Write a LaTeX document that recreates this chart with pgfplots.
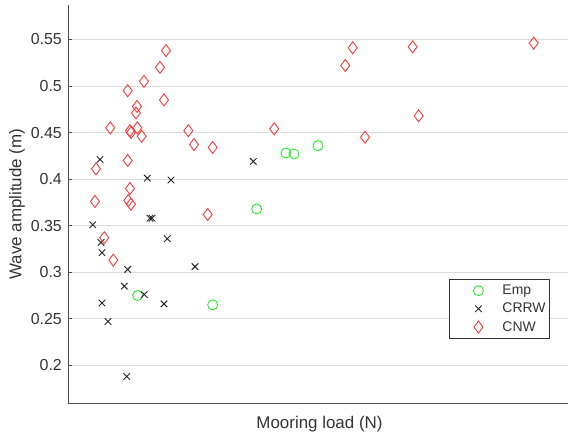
\documentclass[border=0pt]{standalone}
\usepackage{pgfplots}
\pgfplotsset{compat=1.18}
\usepackage{fontspec}
\setmainfont{Liberation Sans}
\definecolor{empc}{rgb}{0.15,0.93,0.15}
\definecolor{cnwc}{rgb}{1,0.22,0.22}
\definecolor{crrwc}{rgb}{0.15,0.15,0.15}
\definecolor{txt}{rgb}{0.2,0.2,0.2}
\begin{document}
\begin{tikzpicture}
\path[use as bounding box] (0,0) rectangle (568bp,436bp);
\begin{axis}[
  at={(68bp,32.5bp)}, anchor=south west,
  scale only axis, width=500bp, height=398.5bp,
  xmin=68, xmax=568, ymin=0.159, ymax=0.587,
  axis x line*=bottom, axis y line*=left,
  axis line style={-, black!70, line width=1bp},
  xtick=\empty,
  ytick={0.2,0.25,0.3,0.35,0.4,0.45,0.5,0.55},
  yticklabels={0.2,0.25,0.3,0.35,0.4,0.45,0.5,0.55},
  ymajorgrids, major grid style={black!14, line width=0.8bp},
  tick align=inside, major tick length=4bp,
  tick style={black!70, line width=0.8bp},
  /pgf/number format/assume math mode=true,
  yticklabel style={font=\fontsize{16}{18}\selectfont, text=txt, inner sep=0pt, xshift=-6bp},
  ylabel={Wave amplitude (m)},
  ylabel style={at={(axis description cs:-0.102,0.5)}, anchor=center, font=\fontsize{17}{20}\selectfont, text=txt},
  xlabel={Mooring load (N)},
  xlabel style={at={(axis description cs:0.503,0)}, anchor=base, yshift=-24.5bp, font=\fontsize{17}{20}\selectfont, text=txt},
  legend style={at={(axis description cs:0.964,0.163)}, anchor=south east,
    draw=black!80, line width=0.8bp, font=\fontsize{14}{16}\selectfont, text=txt,
    inner xsep=2bp, inner ysep=3.5bp, row sep=3bp},
  legend cell align=left,
  legend image code/.code={\path[draw=none] (-27bp,0) -- (22bp,0); \draw[#1] plot[only marks] coordinates {(0bp,0bp)};},
]
\addplot[only marks, mark=o, mark size=5bp, draw=empc, line width=0.9bp] coordinates {
(137.7,0.275) (212.7,0.265) (256.7,0.368) (286,0.428) (294,0.427) (318,0.436)
};
\addlegendentry{Emp}
\addplot[only marks, mark=x, mark size=4.6bp, draw=crrwc, line width=0.9bp] coordinates {
(100,0.421) (147.3,0.401) (171,0.399) (253.3,0.419)
(150,0.358) (152,0.358) (92.7,0.351) (101,0.332) (167.3,0.336)
(102,0.321) (127.7,0.303) (195,0.306) (124.3,0.285) (144.3,0.276)
(102,0.267) (164,0.266) (108,0.247) (126.7,0.188)
};
\addlegendentry{CRRW}
\addplot[only marks, mark=diamond, mark size=6bp, draw=cnwc, line width=0.9bp] coordinates {
(166,0.538) (160,0.520) (144,0.505) (127.7,0.495) (164,0.485)
(137,0.478) (136,0.471) (110.3,0.455) (137.3,0.455) (130,0.452)
(131,0.450) (141.7,0.446) (188.3,0.452) (194,0.437) (212.7,0.434)
(127.7,0.420) (96,0.411) (130,0.390) (95,0.376) (128.3,0.377)
(131,0.373) (207.7,0.362) (104.3,0.337) (113.3,0.313)
(352.7,0.541) (345.3,0.522) (412.7,0.542) (533.7,0.546)
(418.7,0.468) (274.3,0.454) (365,0.445)
};
\addlegendentry{CNW}
\end{axis}
\end{tikzpicture}
\end{document}
